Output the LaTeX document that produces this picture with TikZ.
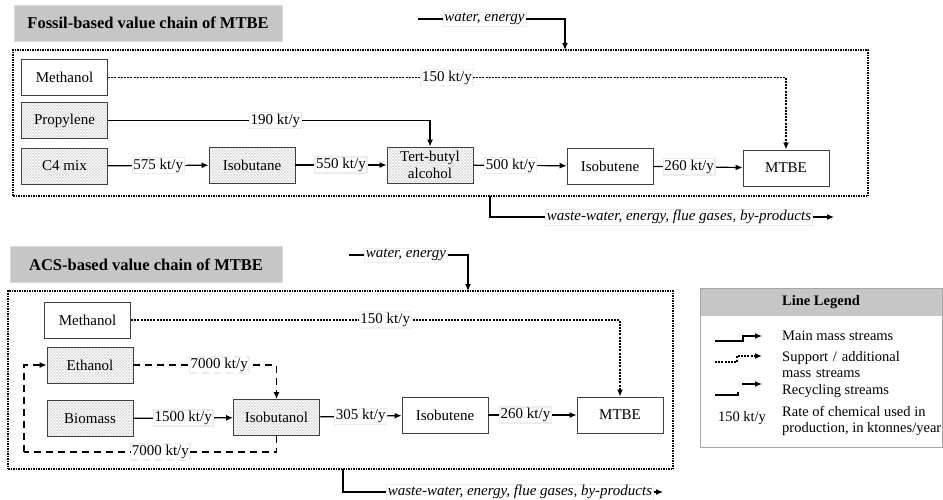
\documentclass[tikz,border=0pt]{standalone}
\usepackage{fontspec}
\setmainfont{Liberation Serif}
\usetikzlibrary{arrows.meta,patterns}

\tikzset{
  box/.style={draw=black!75, line width=0.9pt, minimum width=86pt, minimum height=36pt,
    align=center, font=\fontsize{15}{17}\selectfont},
  hatched/.style={box, preaction={pattern=north east lines, pattern color=gray!28},
    pattern=north west lines, pattern color=gray!28},
  rate/.style={fill=white, draw=gray!15, inner sep=1.2pt, font=\fontsize{15}{16}\selectfont},
  io/.style={rate, font=\fontsize{15}{16}\selectfont\itshape},
  title/.style={fill=gray!45, draw=gray!30, minimum height=36pt,
    font=\fontsize{16.5}{18}\selectfont\bfseries},
  frame/.style={draw, dash pattern=on 1.5pt off 1pt, line width=1.3pt},
  main/.style={->, line width=1.2pt},
  supp/.style={->, dash pattern=on 2pt off 1.2pt, line width=1.4pt},
  recyc/.style={->, line width=1.2pt, dash pattern=on 7pt off 5pt},
  lgtext/.style={anchor=west, align=left, inner sep=0pt, font=\fontsize{14.5}{16.5}\selectfont},
}

\begin{document}
\begin{tikzpicture}[x=1pt, y=-1pt, >={Latex[length=7pt,width=6pt]}]
\useasboundingbox (0,0) rectangle (943,499);

% fossil-based chain
\node[title, minimum width=268pt] (tit1) at (148,23) {Fossil-based value chain of MTBE};
\node[frame, minimum width=855pt, minimum height=146pt] (frame1) at (440.5,123) {};
\node[box] (meth1) at (64.5,77.5) {Methanol};
\node[hatched] (prop) at (64.5,120.5) {Propylene};
\node[hatched] (cfour) at (64.5,166) {C4 mix};
\node[hatched] (ibutane) at (252,165) {Isobutane};
\node[hatched] (tba) at (430,165) {Tert-butyl\\alcohol};
\node[box] (ibutene1) at (610,166) {Isobutene};
\node[box] (mtbe1) at (786,168) {MTBE};

\draw[supp] (meth1.east) -| node[rate, pos=0.25] {150 kt/y} (mtbe1.north);
\draw[main] (prop.east) -| node[rate, pos=0.26] {190 kt/y} (tba.north);
\draw[main] (cfour) -- node[rate] {575 kt/y} (ibutane);
\draw[main] (ibutane) -- node[rate] {550 kt/y} (tba);
\draw[main] (tba) -- node[rate, pos=0.4] {500 kt/y} (ibutene1);
\draw[main] (ibutene1) -- node[rate, pos=0.4] {260 kt/y} (mtbe1);

\coordinate (win1) at (418,19);
\coordinate (in1) at (565,50);
\node[io] (wat1) at (484.5,19) {water, energy};
\draw[line width=1.2pt] (win1) -- (wat1.west);
\draw[main] (wat1.east) -| (in1);
\coordinate (out1) at (490,196);
\coordinate (wend1) at (834,217);
\node[io] (wst1) at (679,217) {waste-water, energy, flue gases, by-products};
\draw[line width=1.2pt] (out1) |- (wst1.west);
\draw[main] (wst1.east) -- (wend1);

% ACS-based chain
\node[title, minimum width=272pt] (tit2) at (146,264.5) {ACS-based value chain of MTBE};
\node[frame, minimum width=665pt, minimum height=178pt] (frame2) at (340.5,380) {};
\node[box] (meth2) at (87.5,320) {Methanol};
\node[hatched] (eth) at (90,365) {Ethanol};
\node[hatched] (biom) at (90,418.5) {Biomass};
\node[hatched] (ibutol) at (276.5,417.5) {Isobutanol};
\node[box] (ibutene2) at (445,415) {Isobutene};
\node[box] (mtbe2) at (620,415) {MTBE};

\draw[supp] (meth2.east) -| node[rate, pos=0.26] {150 kt/y} (mtbe2.north);
\draw[recyc] (eth.east) -| node[rate, pos=0.3] {7000 kt/y} (ibutol.north);
\draw[main] (biom) -- node[rate] {1500 kt/y} (ibutol);
\draw[main] (ibutol) -- node[rate] {305 kt/y} (ibutene2);
\draw[main] (ibutene2) -- node[rate, pos=0.42] {260 kt/y} (mtbe2);
\coordinate (rc) at (24,452);
\draw[line width=1.2pt, dash pattern=on 7pt off 5pt] (ibutol.south) |- node[rate, pos=0.73] {7000 kt/y} (rc);
\draw[recyc] (rc) |- (eth.west);

\coordinate (win2) at (349,255);
\coordinate (in2) at (468,291);
\node[io] (wat2) at (406,255) {water, energy};
\draw[line width=1.2pt] (win2) -- (wat2.west);
\draw[main] (wat2.east) -| (in2);
\coordinate (out2) at (343,469);
\coordinate (wend2) at (663,492);
\node[io] (wst2) at (520,492) {waste-water, energy, flue gases, by-products};
\draw[line width=1.2pt] (out2) |- (wst2.west);
\draw[main] (wst2.east) -- (wend2);

% legend
\node[fill=gray!45, minimum width=242pt, minimum height=28pt,
  font=\fontsize{14.5}{16}\selectfont\bfseries] (lghead) at (821,302) {Line Legend};
\node[draw=gray!70, line width=0.8pt, minimum width=242pt, minimum height=159pt] (legend) at (821,367.5) {};
\draw[main] (715,341) -- (743,341) -- (743,336) -- (762,336);
\draw[supp] (715,362) -- (737,362) -- (737,356) -- (762,356);
\draw[line width=1.4pt] (715,395) -- (738,395) -- (738,392);
\draw[main] (742,384) -- (762,384);
\node[lgtext] (lmain) at (782,336) {Main mass streams};
\node[lgtext, text width=134pt] (lsupp) at (782,364.5) {\makebox[131pt][s]{Support / additional}\\mass streams};
\node[lgtext] (lrecyc) at (782,391) {Recycling streams};
\node[lgtext] (lrate) at (782,421) {Rate of chemical used in\\production, in ktonnes/year};
\node[lgtext, anchor=center] (lrval) at (742,418) {150 kt/y};
\end{tikzpicture}
\end{document}
